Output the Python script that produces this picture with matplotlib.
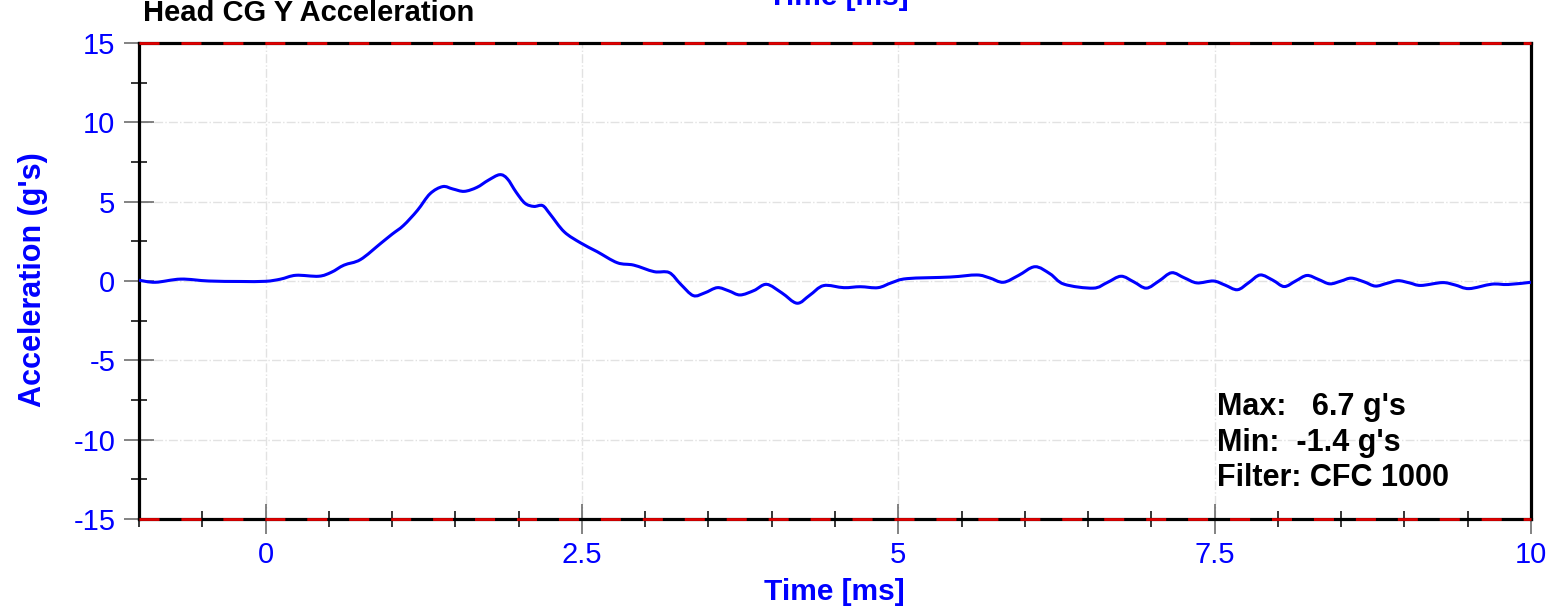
import numpy as np
import matplotlib
matplotlib.use("Agg")
import matplotlib.pyplot as plt
from matplotlib.ticker import MultipleLocator, FixedLocator
from matplotlib.path import Path
from matplotlib.patches import PathPatch

plt.rcParams['font.family'] = ['Liberation Sans', 'DejaVu Sans']
plt.rcParams['lines.scale_dashes'] = False
plt.rcParams['axes.unicode_minus'] = False

# head CG y acceleration trace
time_ms = [-1.0, -0.87, -0.67, -0.45, -0.2, 0.0, 0.12, 0.24, 0.42, 0.52, 0.62, 0.75,
           0.91, 1.0, 1.09, 1.2, 1.3, 1.4, 1.48, 1.57, 1.67, 1.76, 1.85, 1.91,
           1.98, 2.05, 2.12, 2.19, 2.25, 2.36, 2.49, 2.62, 2.78, 2.91, 3.07,
           3.19, 3.28, 3.38, 3.47, 3.57, 3.66, 3.75, 3.86, 3.96, 4.08, 4.2,
           4.3, 4.41, 4.57, 4.7, 4.84, 4.95, 5.07, 5.41, 5.62, 5.72, 5.83,
           5.95, 6.08, 6.2, 6.31, 6.54, 6.65, 6.76, 6.86, 6.96, 7.06, 7.16,
           7.26, 7.36, 7.49, 7.58, 7.68, 7.77, 7.86, 7.96, 8.05, 8.14, 8.23,
           8.32, 8.41, 8.5, 8.58, 8.68, 8.77, 8.86, 8.95, 9.04, 9.13, 9.3,
           9.4, 9.51, 9.69, 9.82, 10.0]
accel_g = [0.05, -0.08, 0.12, 0.0, -0.03, -0.02, 0.12, 0.36, 0.30, 0.55, 1.0, 1.35,
           2.37, 2.95, 3.5, 4.45, 5.5, 5.95, 5.8, 5.65, 5.9, 6.35, 6.7, 6.45,
           5.6, 4.9, 4.7, 4.75, 4.2, 3.1, 2.4, 1.85, 1.15, 1.0, 0.59,
           0.53, -0.2, -0.92, -0.75, -0.42, -0.62, -0.88, -0.6, -0.21, -0.75, -1.4,
           -0.9, -0.29, -0.42, -0.36, -0.42, -0.1, 0.15, 0.25, 0.38, 0.2, -0.08,
           0.35, 0.9, 0.45, -0.2, -0.45, -0.1, 0.3, -0.05, -0.45, 0.0, 0.52,
           0.2, -0.12, 0.0, -0.25, -0.55, -0.1, 0.38, 0.05, -0.35, 0.0, 0.35,
           0.1, -0.18, 0.0, 0.18, -0.05, -0.32, -0.15, 0.02, -0.12, -0.28, -0.1,
           -0.25, -0.48, -0.2, -0.22, -0.08]

title = "Head CG Y Acceleration"
x_label = "Time [ms]"
y_label = "Acceleration (g's)"
stats = ["Max:   6.7 g's", "Min:  -1.4 g's", "Filter: CFC 1000"]
x_major = [0, 2.5, 5, 7.5, 10]
x_major_labels = ["0", "2.5", "5", "7.5", "10"]
y_major = [-15, -10, -5, 0, 5, 10, 15]


def smooth_path(xs, ys):
    # catmull-rom through the points, drawn as cubic bezier segments
    p = np.column_stack([xs, ys])
    pts = np.vstack([p[0], p, p[-1]])
    verts = [p[0]]
    codes = [Path.MOVETO]
    for i in range(1, len(pts) - 2):
        p0, p1, p2, p3 = pts[i - 1], pts[i], pts[i + 1], pts[i + 2]
        verts += [p1 + (p2 - p0) / 6, p2 - (p3 - p1) / 6, p2]
        codes += [Path.CURVE4] * 3
    return Path(verts, codes)


W, H = 1551, 607
fig = plt.figure(figsize=(W / 100, H / 100), dpi=100)
ax = fig.add_axes([139 / W, 88 / H, 1392 / W, 476 / H])

ax.add_patch(PathPatch(smooth_path(time_ms, accel_g), facecolor='none',
                       edgecolor='#0000ff', linewidth=2.2, zorder=3))

ax.set_xlim(-1, 10)
ax.set_ylim(-15, 15)

ax.xaxis.set_major_locator(FixedLocator(x_major))
ax.set_xticklabels(x_major_labels)
ax.xaxis.set_minor_locator(MultipleLocator(0.5))
ax.yaxis.set_major_locator(FixedLocator(y_major))
ax.yaxis.set_minor_locator(MultipleLocator(2.5))

ax.tick_params(which='major', direction='inout', length=22, width=1.1,
               color='#606060', labelcolor='#0000ff', labelsize=21, pad=5)
ax.tick_params(which='minor', direction='inout', length=12, width=1.1,
               color='black')
ax.tick_params(axis='y', which='major', pad=6)

ax.grid(True, which='major', color='#e2e2e2', linestyle='-.', linewidth=1.0)
ax.set_axisbelow(True)

for s in ax.spines.values():
    s.set_linewidth(2.3)
    s.set_color('black')

# red dashed limit lines on top of the top/bottom borders
for lim in (15, -15):
    ax.axhline(lim, color='#e00000', linewidth=2.0, dashes=(14.4, 15.8),
               zorder=5, clip_on=False)

fig.text(143 / W, 1 - 21 / H, title, fontsize=21, fontweight='bold',
         ha='left', va='baseline', color='black')
fig.text(834 / W, 7 / H, x_label, fontsize=21.5, fontweight='bold',
         ha='center', va='baseline', color='#0000ff')
fig.text(838 / W, 1 - 5 / H, x_label, fontsize=21.5, fontweight='bold',
         ha='center', va='baseline', color='#0000ff')
fig.text(33 / W, 1 - 280 / H, y_label, fontsize=22, fontweight='bold',
         ha='center', va='center', rotation=90, color='#0000ff')

for i, line in enumerate(stats):
    fig.text(1217 / W, 1 - (415 + 35.5 * i) / H, line, fontsize=22,
             fontweight='bold', ha='left', va='baseline', color='black')

fig.savefig('out.png', dpi=100)
